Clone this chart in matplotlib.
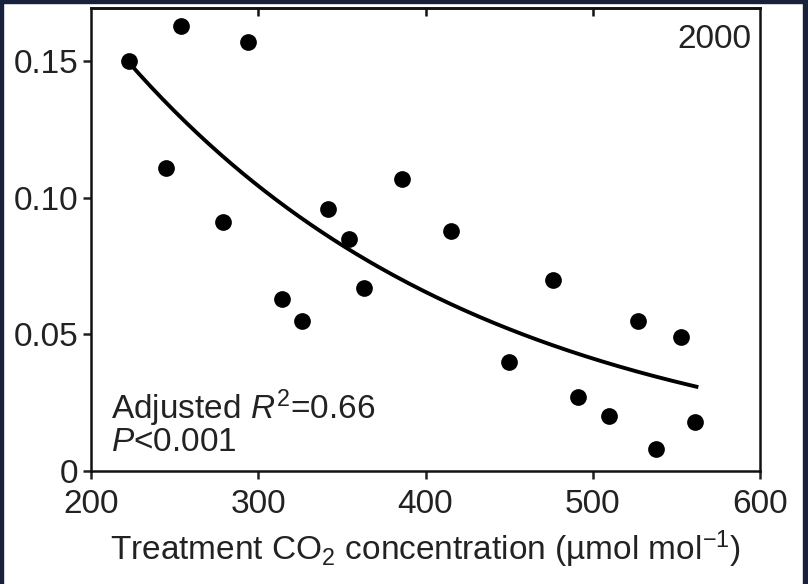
import numpy as np
import matplotlib
matplotlib.use('Agg')
import matplotlib.pyplot as plt
from matplotlib.patches import Rectangle

plt.rcParams['font.family'] = ['Liberation Sans', 'DejaVu Sans']
plt.rcParams['mathtext.fontset'] = 'custom'
plt.rcParams['mathtext.rm'] = 'Liberation Sans'
plt.rcParams['mathtext.it'] = 'Liberation Sans:italic'

# data
co2 = [223, 254, 245, 279, 294, 314, 326, 342, 354, 363,
       386, 415, 450, 476, 491, 510, 527, 538, 553, 561]
value = [0.150, 0.163, 0.111, 0.091, 0.157, 0.063, 0.055, 0.096, 0.085, 0.067,
         0.107, 0.088, 0.040, 0.070, 0.027, 0.020, 0.055, 0.008, 0.049, 0.018]

# fitted curve y = a * exp(b * (x - x0)), parameters
fit_x0 = 222
fit_x1 = 562
fit_a = 0.150
fit_b = -0.00465

xticks = [200, 300, 400, 500, 600]
yticks = [0, 0.05, 0.10, 0.15]
ytick_labels = ['0', '0.05', '0.10', '0.15']

text_col = '#222222'
fs = 24

fig = plt.figure(figsize=(8.08, 5.84), dpi=100, facecolor='white')
# dark frame round the picture
navy = '#18213c'
fig.patches.append(Rectangle((0, 0), 3 / 808, 1, transform=fig.transFigure, color=navy, zorder=0))
fig.patches.append(Rectangle((0, 1 - 3 / 584), 1, 3 / 584, transform=fig.transFigure, color=navy, zorder=0))
fig.patches.append(Rectangle((803 / 808, 0), 5 / 808, 1, transform=fig.transFigure, color=navy, zorder=0))

ax = fig.add_axes([91 / 808, 113 / 584, 669 / 808, 463 / 584])

ax.scatter(co2, value, s=145, color='black', zorder=3, linewidths=0)

xs = np.linspace(fit_x0, fit_x1, 200)
ax.plot(xs, fit_a * np.exp(fit_b * (xs - fit_x0)), color='black', lw=2.8)

ax.set_xlim(200, 600)
ax.set_ylim(0, 0.1695)
ax.set_xticks(xticks)
ax.set_xticklabels([str(t) for t in xticks])
ax.set_yticks(yticks)
ax.set_yticklabels(ytick_labels)

for s in ax.spines.values():
    s.set_linewidth(1.8)
    s.set_color('#111111')

ax.tick_params(axis='both', labelsize=fs, colors=text_col, width=1.8, length=6)
ax.tick_params(axis='y', direction='out', pad=3)
ax.tick_params(axis='x', direction='out', pad=7)

# inward ticks along the top
top = ax.secondary_xaxis('top')
top.set_xticks([300, 400, 500])
top.set_xticklabels([])
top.tick_params(direction='in', length=6, width=1.8, colors='#111111')
top.spines['top'].set_linewidth(1.8)

ax.set_xlabel(r'Treatment CO$_2$ concentration (µmol mol$^{-1}$)', fontsize=fs, color=text_col, labelpad=6)

ax.text(0.987, 0.965, '2000', transform=ax.transAxes, ha='right', va='top', fontsize=fs, color=text_col)
ax.text(0.03, 0.135, r'Adjusted $R^2$=0.66', transform=ax.transAxes, ha='left', va='center',
        fontsize=fs, color=text_col)
ax.text(0.03, 0.062, r'$P$<0.001', transform=ax.transAxes, ha='left', va='center',
        fontsize=fs, color=text_col)

fig.savefig('out.png', dpi=100, facecolor=fig.get_facecolor())
